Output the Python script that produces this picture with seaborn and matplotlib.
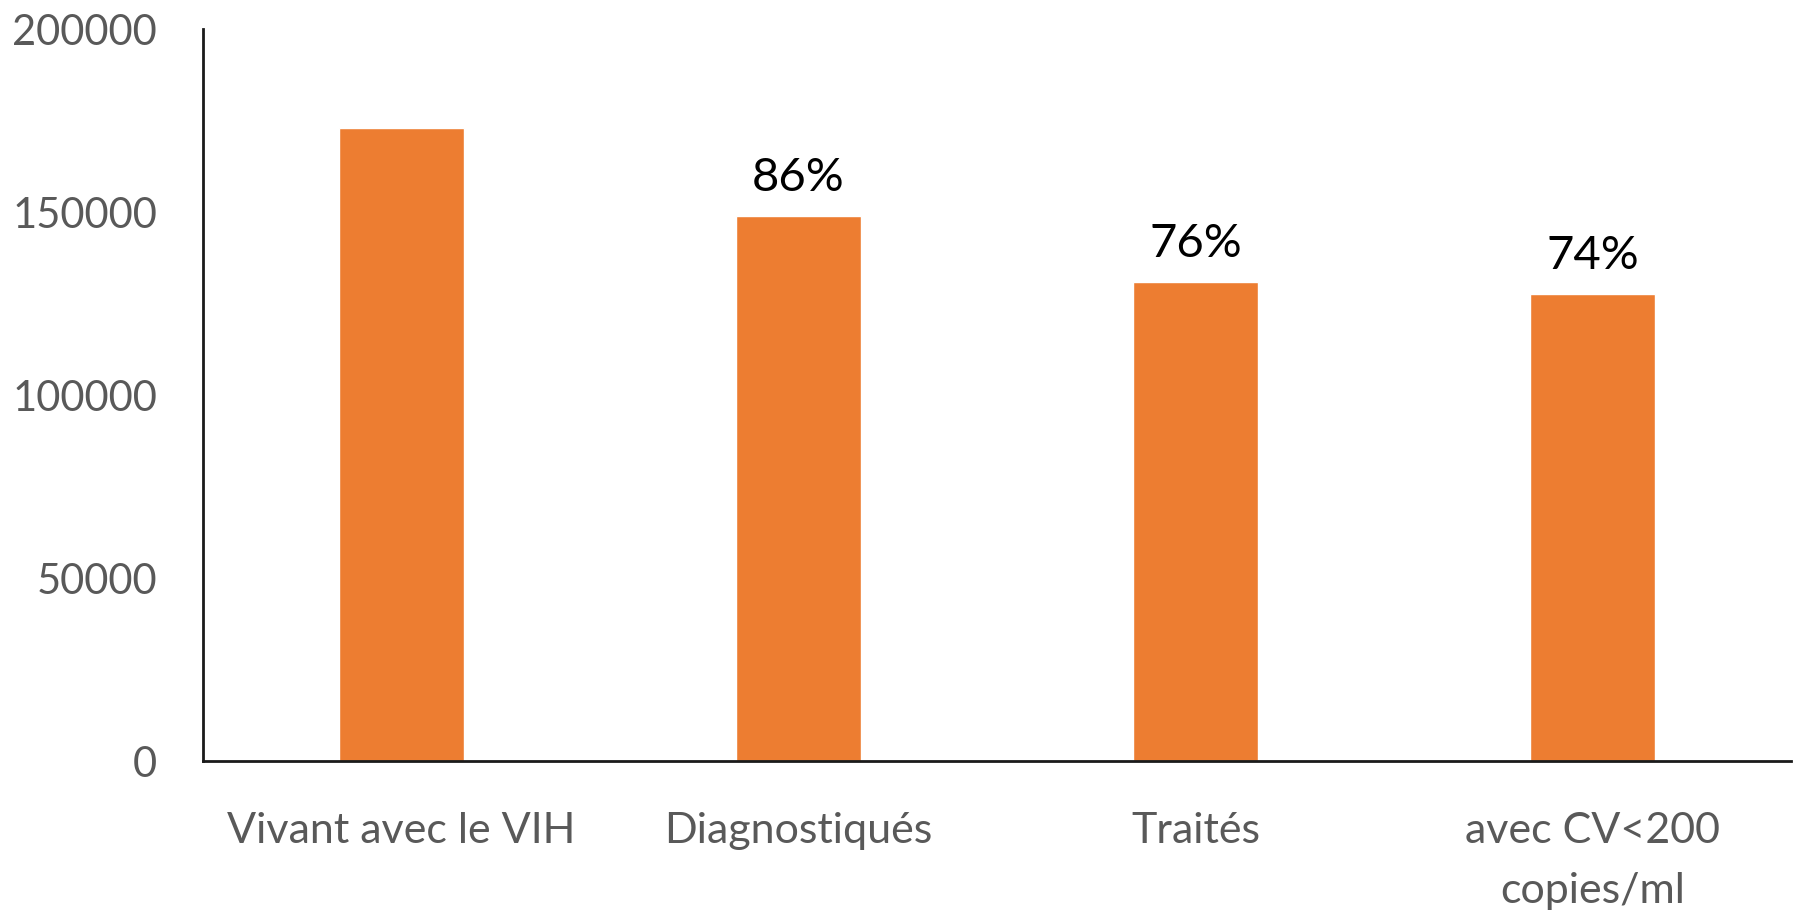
import matplotlib
matplotlib.use("Agg")
import matplotlib.pyplot as plt
import pandas as pd
import seaborn as sns

# cascade des soins VIH
categories = ["Vivant avec le VIH", "Diagnostiqués", "Traités", "avec CV<200\ncopies/ml"]
values = [173000, 149000, 131000, 127600]
pct_labels = ["", "86%", "76%", "74%"]
y_ticks = [0, 50000, 100000, 150000, 200000]

sns.set_style("white")
plt.rcParams['font.family'] = ['Lato', 'DejaVu Sans']

df = pd.DataFrame({"etape": categories, "n": values})

fig = plt.figure(figsize=(18, 9.16), dpi=100)
ax = fig.add_axes([0.1128, 0.1692, 0.8822, 0.7991])

sns.barplot(data=df, x="etape", y="n", color="#ED7D31", saturation=1,
            width=0.315, ax=ax)

ax.set_xlim(-0.5, 3.5)
ax.set_ylim(0, 200000)
ax.set_yticks(y_ticks)
ax.set_yticklabels([str(t) for t in y_ticks])
ax.set_xlabel("")
ax.set_ylabel("")

ax.tick_params(axis="y", length=0, pad=33, labelsize=30, labelcolor="#595959")
ax.tick_params(axis="x", length=0, pad=37, labelsize=31, labelcolor="#595959")
for lab in ax.get_xticklabels():
    lab.set_verticalalignment("top")
    lab.set_linespacing(1.7)

for s in ["top", "right"]:
    ax.spines[s].set_visible(False)
for s in ["left", "bottom"]:
    ax.spines[s].set_color("#1a1a1a")
    ax.spines[s].set_linewidth(2)

for i, (v, p) in enumerate(zip(values, pct_labels)):
    if p:
        ax.annotate(p, (i, v), xytext=(0, 12), textcoords="offset points",
                    ha="center", va="bottom", fontsize=34, color="black")

fig.savefig("out.png", dpi=100)
